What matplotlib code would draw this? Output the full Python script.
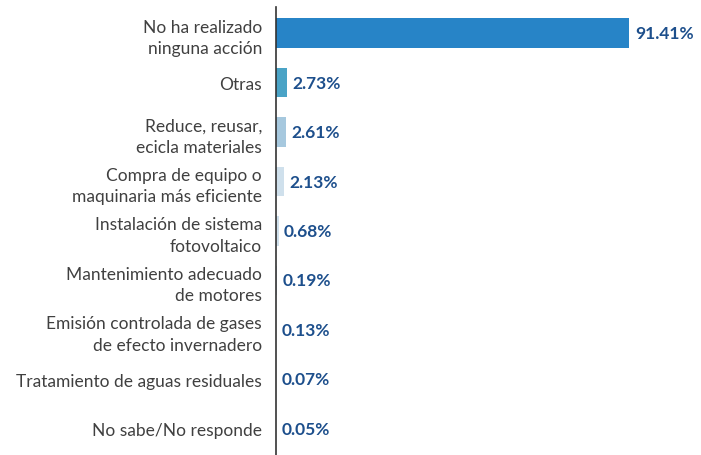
import matplotlib.pyplot as plt
import numpy as np

plt.rcParams['font.family'] = ['Lato', 'DejaVu Sans']

categorias = [
    "No ha realizado\nninguna acción",
    "Otras",
    "Reduce, reusar,\necicla materiales",
    "Compra de equipo o\nmaquinaria más eficiente",
    "Instalación de sistema\nfotovoltaico",
    "Mantenimiento adecuado\nde motores",
    "Emisión controlada de gases\nde efecto invernadero",
    "Tratamiento de aguas residuales",
    "No sabe/No responde",
]
porcentajes = [91.41, 2.73, 2.61, 2.13, 0.68, 0.19, 0.13, 0.07, 0.05]
colores = ['#2784c7', '#4aa3c6', '#a6c8de', '#cfe0ec',
           '#cfe0ec', '#cfe0ec', '#cfe0ec', '#cfe0ec', '#cfe0ec']

fig = plt.figure(figsize=(7.01, 4.56), dpi=100)
ax = fig.add_axes([0.3937, 0.0, 0.5913, 0.9825])

y = np.arange(len(categorias))
ax.barh(y, porcentajes, height=0.6, color=colores)

# porcentaje al final de cada barra
for yi, v in zip(y, porcentajes):
    ax.text(v + 1.4, yi, f"{v:.2f}%", va='center', ha='left',
            fontsize=12.5, fontweight='bold', color='#1d4f8c')

ax.set_xlim(0, 107.2)
ax.set_ylim(8.53, -0.53)
ax.set_yticks(y)
ax.set_yticklabels(categorias, fontsize=12.5, color='#404040',
                   linespacing=1.4)
ax.tick_params(axis='y', length=0, pad=10)
ax.set_xticks([])

for s in ['top', 'right', 'bottom']:
    ax.spines[s].set_visible(False)
ax.spines['left'].set_color('#333333')
ax.spines['left'].set_linewidth(1.2)

fig.savefig("out.png", dpi=100)
